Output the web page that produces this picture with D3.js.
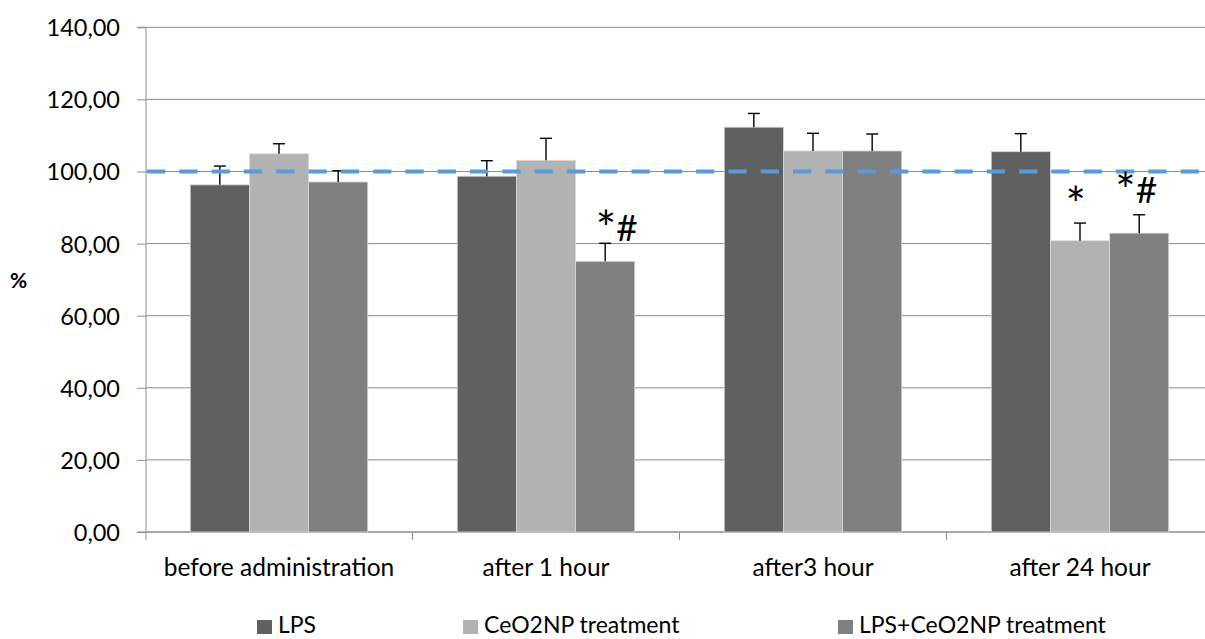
<!DOCTYPE html>
<html><head><meta charset="utf-8">
<script src="https://cdn.jsdelivr.net/npm/d3@7"></script>
<style>body{margin:0;background:#fff;overflow:hidden}svg{display:block}text{font-family:Lato,"Open Sans",sans-serif;fill:#000}</style>
</head><body><svg id="c" width="1205" height="639"></svg>
<script>
const categories = ["before administration","after 1 hour","after3 hour","after 24 hour"];
const seriesNames = ["LPS","CeO2NP treatment","LPS+CeO2NP treatment"];
const lpsValues = [96.3, 98.7, 112.3, 105.5];
const ceValues = [104.9, 103.1, 105.7, 80.8];
const lpsCeValues = [97.1, 75.1, 105.7, 82.9];
const lpsErr = [5.2, 4.3, 3.8, 5.0];
const ceErr = [2.8, 6.1, 4.9, 4.9];
const lpsCeErr = [3.1, 5.0, 4.7, 5.1];
const yTicks = [0,20,40,60,80,100,120,140];
const refLine = 100;
const annotations = [
  {cat:"after 1 hour", series:"LPS+CeO2NP treatment", text:"*#"},
  {cat:"after 24 hour", series:"CeO2NP treatment", text:"*"},
  {cat:"after 24 hour", series:"LPS+CeO2NP treatment", text:"*#"}
];
const colors = ["#606060","#b2b2b2","#808080"];

(function(){
// layout offsets (pixels) for annotation text relative to error-bar top / bar centre
const annotOffset = [{dx: 11.5, dy: -2.5}, {dx: -4.3, dy: -6}, {dx: -3, dy: -12}];
const values = [lpsValues, ceValues, lpsCeValues];
const errs = [lpsErr, ceErr, lpsCeErr];
const svg = d3.select("#c");
const pL = 146, pT = 27.3, pB = 532;
const y = d3.scaleLinear().domain([0,140]).range([pB, pT]);
const x0 = d3.scaleBand().domain(categories).range([145.5, 1213.5]).padding(0);
const x1 = d3.scaleBand().domain(seriesNames).range([0, x0.bandwidth()]).paddingInner(0).paddingOuter(0.756);
const fmt = v => d3.format(".2f")(v).replace(".", ",");
const grid = "#8c8c8c";

svg.append("g").selectAll("line").data(yTicks).join("line")
  .attr("x1", pL).attr("x2", 1205).attr("y1", d=>y(d)).attr("y2", d=>y(d))
  .attr("stroke", grid).attr("stroke-width", 1);

const ya = svg.append("g").attr("transform", `translate(${pL},0)`)
  .call(d3.axisLeft(y).tickValues(yTicks).tickFormat(fmt).tickSize(9).tickPadding(17));
ya.select(".domain").attr("stroke", grid).attr("d", `M-9,${y(140)}H0V${y(0)}H-9`);
ya.selectAll(".tick line").attr("stroke", grid);
ya.selectAll("text").attr("font-size", 23.5).attr("font-family", "Lato, sans-serif").attr("fill", "#000").attr("dy", "0.36em");

const xa = svg.append("g").attr("transform", `translate(0,${pB})`)
  .call(d3.axisBottom(x0).tickSize(0));
xa.select(".domain").attr("stroke", grid).attr("d", `M${pL},0H1205`);
xa.selectAll("text").attr("font-size", 24.5).attr("font-family", "Lato, sans-serif").attr("fill", "#000")
  .attr("y", 44).attr("dy", 0);
const bounds = [pL, ...categories.slice(0,3).map(c => x0(c) + x0.bandwidth())];
svg.append("g").selectAll("line").data(bounds).join("line")
  .attr("x1", d=>d).attr("x2", d=>d).attr("y1", pB).attr("y2", pB+8)
  .attr("stroke", grid);

const flat = [];
categories.forEach((c,i) => seriesNames.forEach((s,j) => flat.push({c, s, j, v: values[j][i], e: errs[j][i]})));
svg.append("g").selectAll("rect").data(flat).join("rect")
  .attr("x", d => x0(d.c) + x1(d.s)).attr("width", x1.bandwidth())
  .attr("y", d => y(d.v)).attr("height", d => y(0) - y(d.v))
  .attr("fill", d => colors[d.j]).attr("stroke", "#d9d9d9").attr("stroke-width", 0.8);

const eg = svg.append("g").attr("stroke", "#000").attr("stroke-width", 1.4);
flat.forEach(d => {
  const cx = x0(d.c) + x1(d.s) + x1.bandwidth()/2;
  eg.append("line").attr("x1", cx).attr("x2", cx).attr("y1", y(d.v)).attr("y2", y(d.v + d.e));
  eg.append("line").attr("x1", cx-6).attr("x2", cx+6).attr("y1", y(d.v + d.e)).attr("y2", y(d.v + d.e));
});

svg.append("line").attr("x1", pL+1).attr("x2", 1205).attr("y1", y(refLine)).attr("y2", y(refLine))
  .attr("stroke", "#5b9bd5").attr("stroke-width", 4).attr("stroke-dasharray", "18.3,14");

annotations.forEach((a,k) => {
  const j = seriesNames.indexOf(a.series), i = categories.indexOf(a.cat);
  const cx = x0(a.cat) + x1(a.series) + x1.bandwidth()/2;
  const t = svg.append("text").attr("x", cx + annotOffset[k].dx).attr("y", y(values[j][i] + errs[j][i]) + annotOffset[k].dy)
    .attr("text-anchor", "middle").attr("font-size", 37).attr("font-family", "Lato, sans-serif");
  [...a.text].forEach(ch => {
    if (ch === "*") t.append("tspan").attr("font-size", 48).attr("dy", 5).text(ch);
    else t.append("tspan").attr("dy", -5).text(ch);
  });
});

svg.append("text").attr("x", 10).attr("y", 287.5).attr("font-size", 21).attr("font-weight", "bold").text("%");

const legX = [257, 463, 838];
seriesNames.forEach((s,j) => {
  svg.append("rect").attr("x", legX[j]).attr("y", 620).attr("width", 15).attr("height", 14).attr("fill", colors[j]);
  svg.append("text").attr("x", legX[j] + 21).attr("y", 633).attr("font-size", 23).text(s);
});
})();
</script></body></html>
